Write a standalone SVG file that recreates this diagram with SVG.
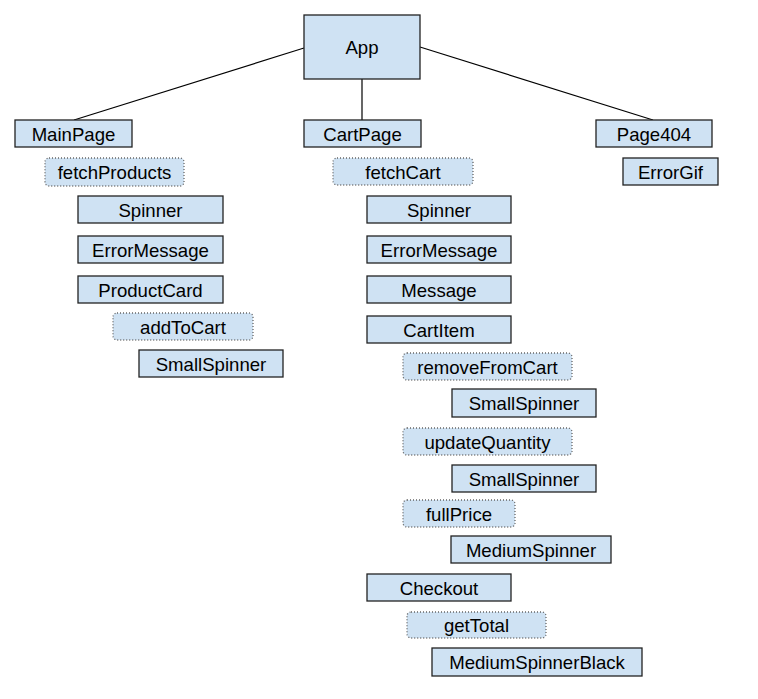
<svg xmlns="http://www.w3.org/2000/svg" width="758" height="699" viewBox="0 0 758 699">
<style>
.n{fill:#cfe2f3;stroke:#222;stroke-width:1.3}
.d{fill:#cfe2f3;stroke:#666;stroke-width:1.3;stroke-dasharray:1 2}
text{font-family:"Liberation Sans",Arial,sans-serif;font-size:18.6px;fill:#000;text-anchor:middle}
.c{stroke:#000;stroke-width:1.2;fill:none}
</style>
<rect width="758" height="699" fill="#fff"/>
<g id="connectors">
<line class="c" x1="304" y1="48" x2="74" y2="120"/>
<line class="c" x1="362" y1="79" x2="362" y2="120"/>
<line class="c" x1="420" y1="47" x2="653" y2="120"/>
</g>
<g id="App"><rect class="n" x="304" y="15" width="116" height="64"/><text x="362" y="54">App</text></g>
<g id="MainPage"><rect class="n" x="15" y="120" width="117" height="27"/><text x="73.5" y="141">MainPage</text></g>
<g id="fetchProducts"><rect class="d" x="45" y="158" width="139" height="28" rx="4"/><text x="114.5" y="179">fetchProducts</text></g>
<g id="Spinner1"><rect class="n" x="78" y="196" width="145" height="27"/><text x="150.5" y="217">Spinner</text></g>
<g id="ErrorMessage1"><rect class="n" x="78" y="236" width="145" height="27"/><text x="150.5" y="257">ErrorMessage</text></g>
<g id="ProductCard"><rect class="n" x="78" y="276" width="145" height="27"/><text x="150.5" y="297">ProductCard</text></g>
<g id="addToCart"><rect class="d" x="113" y="313" width="140" height="27" rx="4"/><text x="183" y="334">addToCart</text></g>
<g id="SmallSpinner1"><rect class="n" x="139" y="350" width="144" height="27"/><text x="211" y="371">SmallSpinner</text></g>
<g id="CartPage"><rect class="n" x="304" y="120" width="117" height="27"/><text x="362.5" y="141">CartPage</text></g>
<g id="fetchCart"><rect class="d" x="333" y="158" width="140" height="27" rx="4"/><text x="403" y="179">fetchCart</text></g>
<g id="Spinner2"><rect class="n" x="367" y="196" width="144" height="27"/><text x="439" y="217">Spinner</text></g>
<g id="ErrorMessage2"><rect class="n" x="367" y="236" width="144" height="27"/><text x="439" y="257">ErrorMessage</text></g>
<g id="Message"><rect class="n" x="367" y="276" width="144" height="27"/><text x="439" y="297">Message</text></g>
<g id="CartItem"><rect class="n" x="367" y="316" width="144" height="27"/><text x="439" y="337">CartItem</text></g>
<g id="removeFromCart"><rect class="d" x="403" y="353" width="169" height="27" rx="4"/><text x="487.5" y="374">removeFromCart</text></g>
<g id="SmallSpinner2"><rect class="n" x="452" y="389" width="144" height="28"/><text x="524" y="410">SmallSpinner</text></g>
<g id="updateQuantity"><rect class="d" x="403" y="428" width="169" height="27" rx="4"/><text x="487.5" y="449">updateQuantity</text></g>
<g id="SmallSpinner3"><rect class="n" x="452" y="465" width="144" height="27"/><text x="524" y="486">SmallSpinner</text></g>
<g id="fullPrice"><rect class="d" x="403" y="500" width="112" height="27" rx="4"/><text x="459" y="521">fullPrice</text></g>
<g id="MediumSpinner"><rect class="n" x="451" y="536" width="160" height="27"/><text x="531" y="557">MediumSpinner</text></g>
<g id="Checkout"><rect class="n" x="367" y="574" width="144" height="27"/><text x="439" y="595">Checkout</text></g>
<g id="getTotal"><rect class="d" x="407" y="612" width="139" height="26" rx="4"/><text x="476.5" y="632">getTotal</text></g>
<g id="MediumSpinnerBlack"><rect class="n" x="432" y="648" width="210" height="28"/><text x="537" y="669">MediumSpinnerBlack</text></g>
<g id="Page404"><rect class="n" x="596" y="120" width="116" height="27"/><text x="654" y="141">Page404</text></g>
<g id="ErrorGif"><rect class="n" x="623" y="158" width="95" height="27"/><text x="670.5" y="179">ErrorGif</text></g>
</svg>
